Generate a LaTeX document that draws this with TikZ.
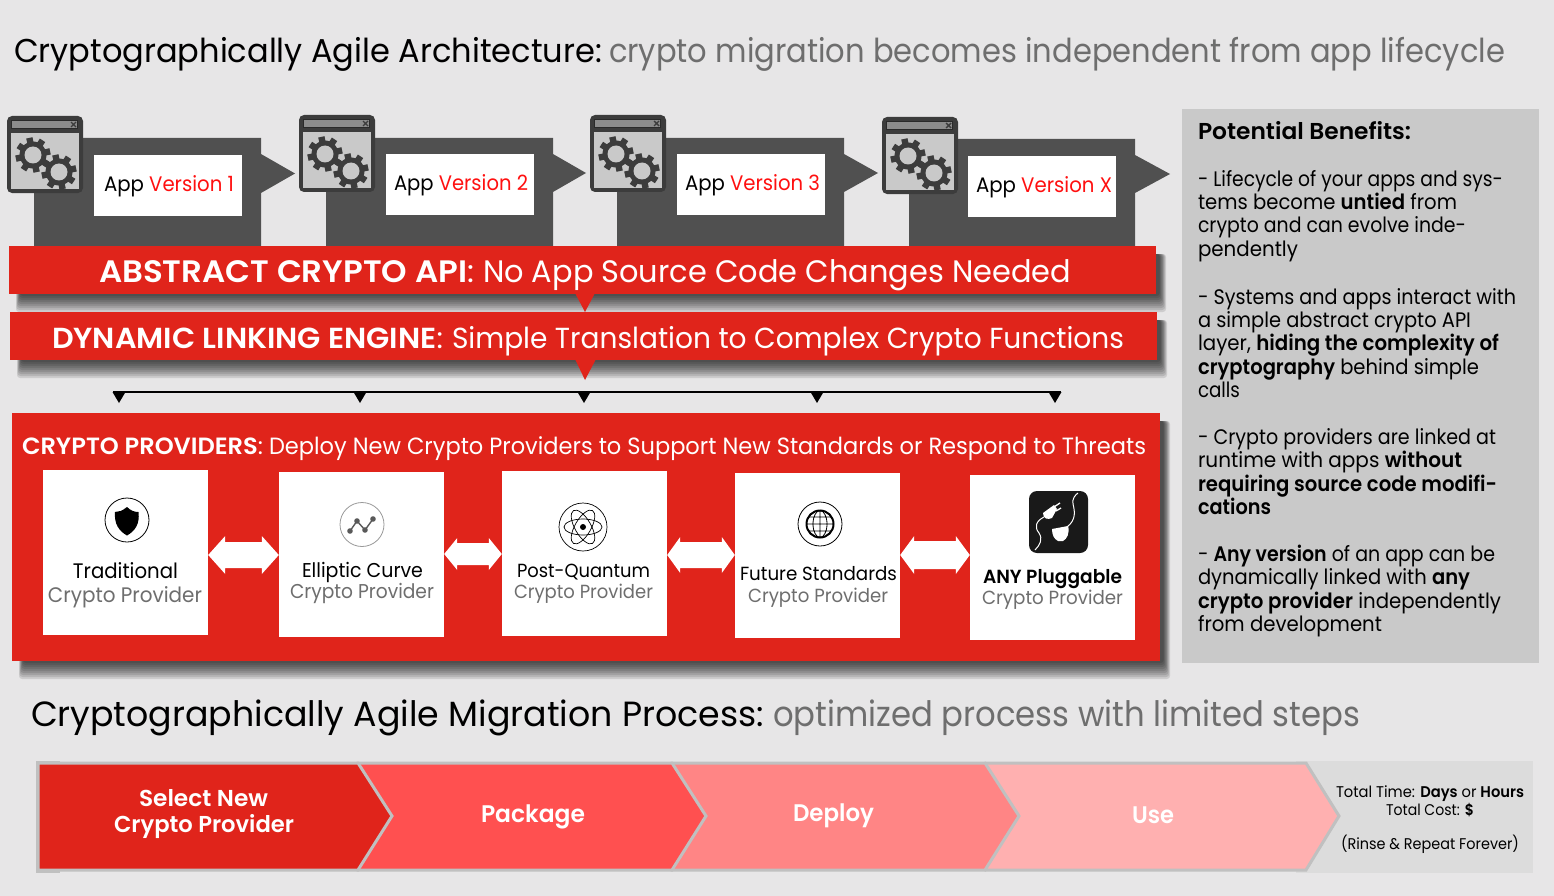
\documentclass[tikz,border=0pt]{standalone}
\usepackage{fontspec}
\usepackage{graphicx}
\setmainfont{Poppins}[BoldFont={Poppins SemiBold}]
\usetikzlibrary{calc}
\definecolor{bgc}{HTML}{E7E6E7}
\definecolor{redc}{HTML}{E0241B}
\definecolor{darkc}{HTML}{505050}
\definecolor{iconc}{HTML}{3C3C3C}
\definecolor{panelc}{HTML}{C9C9C9}
\definecolor{greyt}{HTML}{6E6E6E}
\definecolor{verc}{HTML}{FF1010}
\definecolor{chevb}{HTML}{C0C0C0}
\definecolor{chevb2}{HTML}{FF5050}
\definecolor{chevb3}{HTML}{FF8585}
\definecolor{chevb4}{HTML}{FFB0B0}
\definecolor{sumc}{HTML}{DCDCDC}
\newcommand{\tw}[2]{\resizebox{#1pt}{\height}{#2}}
\newcommand{\softshadow}[4]{%
  \foreach \i in {0,...,8}{%
    \fill[black,opacity=.11,rounded corners=3pt] ({#1+7+\i*0.5},{#2+8}) rectangle ({#3+10-\i*0.8},{#4+18-\i*2});}}
\newcommand{\gearicon}[2]{%
  \foreach \a in {0,45,...,135}{%
    \fill[iconc,rotate around={\a+12:(#1,#2)}] ({#1-3.2},{#2-17.5}) rectangle ({#1+3.2},{#2+17.5});}
  \fill[iconc] (#1,#2) circle[radius=13.5];
  \fill[panelc] (#1,#2) circle[radius=8.5];}
\newcommand{\appicon}[3]{%
  \begin{scope}[shift={(#1,#2)}]
    \node[winbox] (#3) at (38,38.5) {};
    \fill[iconc!70!black] (4,4) rectangle (71,13);
    \fill[gray!90] (5,5) rectangle (70,12);
    \draw[iconc,line width=1.4pt] (64,6) -- (69,11) (69,6) -- (64,11);
    \fill[panelc] (4,17) rectangle (72,73);
    \gearicon{26}{39}
    \gearicon{52}{56}
  \end{scope}}
\newcommand{\dblarrow}[7]{% from, to, cy, head length, head half, shaft half, name
  \path (0,#3) coordinate (#7y) (#1.east |- #7y) coordinate (#7a) (#2.west |- #7y) coordinate (#7b);
  \fill[white] (#7a) -- ($(#7a)+(#4,-#5)$) -- ($(#7a)+(#4,-#6)$) -- ($(#7b)+(-#4,-#6)$) -- ($(#7b)+(-#4,-#5)$)
    -- (#7b) -- ($(#7b)+(-#4,#5)$) -- ($(#7b)+(-#4,#6)$) -- ($(#7a)+(#4,#6)$) -- ($(#7a)+(#4,#5)$) -- cycle;}
\tikzset{
  x=1pt,y=-1pt,
  lab/.style={inner sep=0pt,outer sep=0pt,anchor=base west},
  clab/.style={inner sep=0pt,outer sep=0pt,anchor=base},
  fs/.style={font=\fontsize{#1}{#1}\selectfont},
  winbox/.style={fill=iconc,rounded corners=5pt,minimum width=76pt,minimum height=77pt,inner sep=0pt,draw=none},
  whitebox/.style={fill=white,draw=none,minimum width=165pt,minimum height=165pt,inner sep=0pt},
  verbox/.style={fill=white,draw=none,minimum width=148pt,minimum height=61pt,inner sep=0pt},
  chevron/.style={line width=3pt,draw=chevb,line join=miter},
  bustip/.style={fill=black},
}
\begin{document}
\begin{tikzpicture}
\fill[bgc] (0,0) rectangle (1554,896);
\useasboundingbox (0,0) rectangle (1554,896);

% titles
\node[lab,fs=33] (title1) at (14,63) {\tw{588}{Cryptographically Agile Architecture:}};
\node[lab,fs=33,text=greyt] (title1b) at (609,63) {\tw{896}{crypto migration becomes independent from app lifecycle}};
\node[lab,fs=35] (title2) at (31,726) {\tw{733}{Cryptographically Agile Migration Process:}};
\node[lab,fs=35,text=greyt] (title2b) at (773,726) {\tw{587}{optimized process with limited steps}};

% app version blocks
\fill[darkc] (34,138) rectangle (261,250) (261,154) -- (295,173.5) -- (261,193) -- cycle;
\fill[darkc] (326,138) rectangle (553,250) (553,154) -- (586,173) -- (553,192) -- cycle;
\fill[darkc] (617,138) rectangle (844,250) (844,154) -- (878,173) -- (844,192) -- cycle;
\fill[darkc] (909,139) rectangle (1135,250) (1135,155) -- (1170,174) -- (1135,193) -- cycle;
\appicon{7}{116}{win1}
\appicon{299}{115}{win2}
\appicon{590}{115}{win3}
\appicon{882}{117}{win4}
\node[verbox] (v1) at (168,185.5) {};
\node[verbox] (v2) at (460,184.5) {};
\node[verbox] (v3) at (751,184.5) {};
\node[verbox] (v4) at (1042,186.5) {};
\node[lab,fs=21] (v1t) at (104,192) {\tw{130}{App \textcolor{verc}{Version 1}}};
\node[lab,fs=21] (v2t) at (394,191) {\tw{134}{App \textcolor{verc}{Version 2}}};
\node[lab,fs=21] (v3t) at (685,191) {\tw{135}{App \textcolor{verc}{Version 3}}};
\node[lab,fs=21] (v4t) at (976,193) {\tw{136}{App \textcolor{verc}{Version X}}};

% shadows and bars
\softshadow{9}{246}{1156}{294}
\softshadow{10}{312}{1157}{360}
\softshadow{12}{413}{1160}{661}
\fill[redc] (9,246) rectangle (1156,294);
\fill[redc] (575,293) -- (585,312) -- (595,293) -- cycle;
\fill[redc] (10,312) rectangle (1157,360);
\fill[redc] (575,359) -- (585,380) -- (596,359) -- cycle;
\node[lab,fs=31,text=white] (api) at (99,282) {\tw{375}{\textbf{ABSTRACT CRYPTO API}:}};
\node[lab,fs=31,text=white] (apib) at (483,282) {\tw{588}{No App Source Code Changes Needed}};
\node[lab,fs=29,text=white] (dyn) at (52,348) {\tw{391}{\textbf{DYNAMIC LINKING ENGINE}:}};
\node[lab,fs=29,text=white] (dynb) at (452,348) {\tw{672}{Simple Translation to Complex Crypto Functions}};

% distribution line
\coordinate (bus0) at (113,392);
\coordinate (bus1) at (1061,392);
\coordinate (d1) at (119,392);
\coordinate (d2) at (360,392);
\coordinate (d3) at (584,392);
\coordinate (d4) at (817,392);
\coordinate (d5) at (1055,392);
\draw[black,line width=1.4pt] (bus0) -- (bus1);
\foreach \n in {d1,d2,d3,d4,d5}{
  \fill[bustip] ($(\n)+(-6.5,0)$) -- ($(\n)+(6.5,0)$) -- ($(\n)+(0,11)$) -- cycle;}

% providers
\fill[redc] (12,413) rectangle (1160,661);
\node[lab,fs=23.5,text=white] (prov) at (22,454) {\tw{241}{\textbf{CRYPTO PROVIDERS}:}};
\node[lab,fs=23.5,text=white] (provb) at (269,454) {\tw{877}{Deploy New Crypto Providers to Support New Standards or Respond to Threats}};
\node[whitebox] (p1) at (125.5,552.5) {};
\node[whitebox] (p2) at (361.5,554.5) {};
\node[whitebox] (p3) at (584.5,553.5) {};
\node[whitebox] (p4) at (817.5,555.5) {};
\node[whitebox] (p5) at (1052.5,557.5) {};
\dblarrow{p1}{p2}{555}{17}{19}{13}{aa}
\dblarrow{p2}{p3}{554}{13}{16}{11}{ab}
\dblarrow{p3}{p4}{555}{13}{18}{13}{ac}
\dblarrow{p4}{p5}{555}{14}{19}{14}{ad}

\node[clab,fs=21] (p1a) at (125.5,578) {\tw{105}{Traditional}};
\node[clab,fs=21,text=greyt] (p1b) at (125,602) {\tw{154}{Crypto Provider}};
\node[clab,fs=20] (p2a) at (362.5,577) {\tw{121}{Elliptic Curve}};
\node[clab,fs=20,text=greyt] (p2b) at (362,598) {\tw{144}{Crypto Provider}};
\node[clab,fs=19] (p3a) at (583.5,577) {\tw{133}{Post-Quantum}};
\node[clab,fs=19,text=greyt] (p3b) at (583.5,598) {\tw{139}{Crypto Provider}};
\node[clab,fs=19] (p4a) at (818.5,580) {\tw{157}{Future Standards}};
\node[clab,fs=19,text=greyt] (p4b) at (818,602) {\tw{140}{Crypto Provider}};
\node[clab,fs=19] (p5a) at (1052.5,583) {\tw{139}{\textbf{ANY Pluggable}}};
\node[clab,fs=19,text=greyt] (p5b) at (1052.5,604) {\tw{141}{Crypto Provider}};

% shield
\draw[black,line width=.8pt] (127,520) circle[radius=22];
\fill[black] (127,507) .. controls (122,511) and (119,512) .. (115,512) .. controls (114,524) and (119,531) .. (127,535.5) .. controls (135,531) and (140,524) .. (138.5,512) .. controls (135,512) and (131,511) .. (127,507) -- cycle;
% curve
\draw[black!40,line width=.8pt] (362,524.5) circle[radius=22];
\draw[black!65,line width=1.4pt] (350,531) -- (357,521) -- (365,530) -- (373,519);
\foreach \px/\py in {350/531,357/521,365/530,373/519}{\fill[black!65] (\px,\py) circle[radius=2.8];}
% atom
\draw[black,line width=.7pt] (583,527) circle[radius=24];
\foreach \r in {0,60,120}{\draw[black,line width=.7pt,rotate around={\r:(583,527)}] (583,527) ellipse[x radius=19,y radius=8];}
\fill[black] (583,527) circle[radius=3];
% globe
\draw[black,line width=.8pt] (820,524) ellipse[x radius=22,y radius=22];
\draw[black,line width=2pt] (820,524) circle[radius=13.5];
\draw[black,line width=.8pt] (820,524) ellipse[x radius=7,y radius=13.5] (820,510.5) -- (820,537.5) (806.5,524) -- (833.5,524) (808.5,517) -- (831.5,517) (808.5,531) -- (831.5,531);
% plug
\fill[black!90] (1029,491) [rounded corners=8pt] rectangle (1088,553);
\fill[white] (1043,513) -- (1054,505) -- (1057,509) -- (1052,518) .. controls (1048,520) and (1043,519) .. (1043,513) -- cycle;
\draw[white,line width=1.3pt] (1054,507) -- (1060,503) (1056,511) -- (1061,508);
\draw[white,line width=1pt] (1044,517) .. controls (1036,521) and (1034,527) .. (1039,533) .. controls (1043,539) and (1040,545) .. (1035,550);
\fill[white] (1052,529) -- (1068,526) .. controls (1070,533) and (1067,539) .. (1063,541) -- (1058,541) .. controls (1054,539) and (1052,535) .. (1052,529) -- cycle;
\draw[white,line width=1pt] (1067,527) .. controls (1076,520) and (1075,512) .. (1073,504) .. controls (1072,499) and (1075,495) .. (1078,493);

% benefits panel
\fill[panelc] (1182,109) rectangle (1539,663);
\node[lab,fs=23] (b0) at (1198,140) {\tw{213}{\textbf{Potential Benefits:}}};
\begin{scope}[every node/.style={lab,fs=21}]
\node (b1) at (1198,187) {\tw{305}{- Lifecycle of your apps and sys-}};
\node (b2) at (1198,210) {\tw{259}{tems become \textbf{untied} from}};
\node (b3) at (1198,233) {\tw{268}{crypto and can evolve inde-}};
\node (b4) at (1198,256) {\tw{100}{pendently}};
\node (b5) at (1198,304) {\tw{318}{- Systems and apps interact with}};
\node (b6) at (1198,327) {\tw{273}{a simple abstract crypto API}};
\node (b7) at (1198,350) {\tw{301}{layer, \textbf{hiding the complexity of}}};
\node (b8) at (1198,374) {\tw{281}{\textbf{cryptography} behind simple}};
\node (b9) at (1198,397) {\tw{42}{calls}};
\node (b10) at (1198,444) {\tw{298}{- Crypto providers are linked at}};
\node (b11) at (1198,467) {\tw{264}{runtime with apps \textbf{without}}};
\node (b12) at (1198,491) {\tw{299}{\textbf{requiring source code modifi-}}};
\node (b13) at (1198,514) {\tw{73}{\textbf{cations}}};
\node (b14) at (1198,561) {\tw{297}{- \textbf{Any version} of an app can be}};
\node (b15) at (1198,584) {\tw{272}{dynamically linked with \textbf{any}}};
\node (b16) at (1198,608) {\tw{303}{\textbf{crypto provider} independently}};
\node (b17) at (1198,631) {\tw{184}{from development}};
\end{scope}

% migration chevrons
\fill[sumc] (1296,761) rectangle (1533,873);
\fill[chevb] (36,761) rectangle (60,873);
\filldraw[chevron,fill=chevb4] (986,763) -- (1306,763) -- (1339,816) -- (1306,870) -- (986,870) -- cycle;
\filldraw[chevron,fill=chevb3] (672,763) -- (985,763) -- (1019,816) -- (985,870) -- (672,870) -- cycle;
\filldraw[chevron,fill=chevb2] (358,763) -- (672,763) -- (706,816) -- (672,870) -- (358,870) -- cycle;
\filldraw[chevron,fill=redc] (38,763) -- (358,763) -- (392,816) -- (358,870) -- (38,870) -- cycle;
\node[clab,fs=23,text=white] (c1a) at (203.5,806) {\tw{129}{\textbf{Select New}}};
\node[clab,fs=23,text=white] (c1b) at (204,832) {\tw{180}{\textbf{Crypto Provider}}};
\node[clab,fs=24,text=white] (c2) at (533,822) {\tw{104}{\textbf{Package}}};
\node[clab,fs=24,text=white] (c3) at (833.5,821) {\tw{81}{\textbf{Deploy}}};
\node[clab,fs=24,text=white] (c4) at (1153,823) {\tw{42}{\textbf{Use}}};
\node[clab,fs=15.5] (s1) at (1430,797) {\tw{188}{Total Time: \textbf{Days} or \textbf{Hours}}};
\node[clab,fs=15.5] (s2) at (1430,815) {\tw{88}{Total Cost: \textbf{\$}}};
\node[clab,fs=15.5] (s3) at (1430,849) {\tw{178}{(Rinse \& Repeat Forever)}};
\end{tikzpicture}
\end{document}
